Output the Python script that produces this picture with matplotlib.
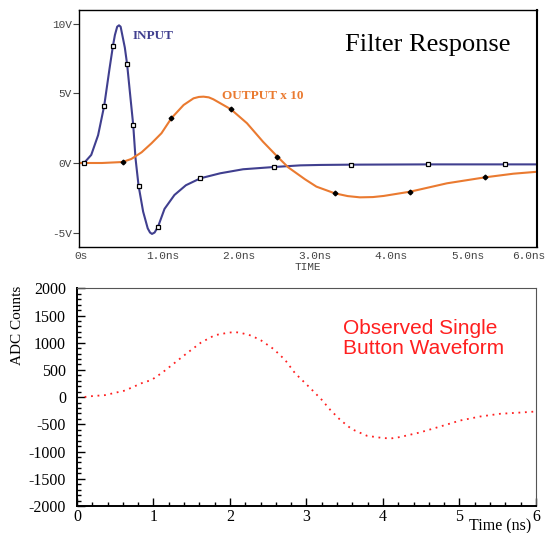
import matplotlib
matplotlib.use("Agg")
import matplotlib.pyplot as plt
import matplotlib.transforms as mtransforms
from matplotlib.ticker import MultipleLocator

plt.rcParams["axes.unicode_minus"] = False

# top panel: filter response (V vs ns)
t_in = [0, 0.066, 0.16, 0.25, 0.33, 0.40, 0.445, 0.47, 0.50, 0.524, 0.545, 0.567, 0.60,
        0.63, 0.67, 0.71, 0.74, 0.78, 0.84, 0.90, 0.93, 0.956, 0.99, 1.035, 1.12, 1.25,
        1.40, 1.59, 1.85, 2.15, 2.55, 2.9, 3.16, 3.56, 4.57, 5.58, 6.0]
v_in = [0, 0, 0.58, 2.0, 4.12, 6.8, 8.44, 9.2, 9.8, 9.9, 9.8, 9.2, 8.3,
        7.1, 4.9, 2.73, 0.34, -1.63, -3.5, -4.7, -5.0, -5.1, -5.0, -4.58, -3.3, -2.3,
        -1.6, -1.1, -0.74, -0.45, -0.29, -0.17, -0.14, -0.12, -0.1, -0.1, -0.1]
t_out = [0, 0.3, 0.57, 0.685, 0.82, 0.95, 1.08, 1.21, 1.37, 1.50, 1.57, 1.63, 1.70, 1.76,
         1.99, 2.20, 2.41, 2.60, 2.74, 2.96, 3.11, 3.35, 3.52, 3.68, 3.85, 3.99, 4.34,
         4.82, 5.32, 5.69, 6.0]
v_out = [0, 0, 0.07, 0.29, 0.77, 1.42, 2.14, 3.22, 4.17, 4.65, 4.75, 4.77, 4.72, 4.58,
         3.86, 2.86, 1.53, 0.45, -0.31, -1.17, -1.7, -2.18, -2.38, -2.47, -2.45, -2.37, -2.06,
         -1.46, -1.03, -0.77, -0.63]
mk_in_t = [0.066, 0.33, 0.445, 0.63, 0.71, 0.78, 1.035, 1.59, 2.55, 3.56, 4.57, 5.58]
mk_in_v = [0, 4.12, 8.44, 7.1, 2.73, -1.63, -4.58, -1.1, -0.29, -0.12, -0.1, -0.1]
mk_out_t = [0.57, 1.21, 1.99, 2.60, 3.35, 4.34, 5.32]
mk_out_v = [0.07, 3.22, 3.86, 0.45, -2.18, -2.06, -1.03]
top_xticks = [0, 1, 2, 3, 4, 5, 6]
top_xlabels = ["0s", "1.0ns", "2.0ns", "3.0ns", "4.0ns", "5.0ns", "6.0ns"]
top_yticks = [-5, 0, 5, 10]
top_ylabels = ["-5V", "0V", "5V", "10V"]

# bottom panel: observed waveform
t_adc = [0.1, 0.127, 0.366, 0.627, 0.846, 0.976, 1.115, 1.26, 1.37, 1.477, 1.62, 1.80, 1.98,
         2.06, 2.13, 2.28, 2.41, 2.57, 2.72, 2.85, 3.05, 3.20, 3.31, 3.44, 3.59, 3.79, 4.00,
         4.11, 4.22, 4.48, 4.75, 5.01, 5.27, 5.53, 5.80, 6.0]
adc = [0, 11, 37, 121, 257, 317, 451, 611, 734, 850, 1002, 1138, 1185,
       1195, 1185, 1130, 1039, 884, 684, 440, 165, -50, -233, -417, -587, -710, -752,
       -758, -734, -650, -539, -429, -356, -306, -283, -264]

navy = "#403f8f"
orange = "#ea7a30"

fig = plt.figure(figsize=(5.48, 5.33), dpi=100)

ax1 = fig.add_axes([0.1442, 0.5366, 0.8358, 0.4446])
ax1.plot(t_in, v_in, color=navy, lw=1.5)
ax1.plot(t_out, v_out, color=orange, lw=1.5)
ax1.plot(mk_in_t, mk_in_v, ls="none", marker="s", ms=3, mfc="white", mec="black", mew=0.9)
ax1.plot(mk_out_t, mk_out_v, ls="none", marker="D", ms=2.4, mfc="black", mec="black")
ax1.set_xlim(0, 6)
ax1.set_ylim(-6.04, 11.0)
ax1.set_xticks(top_xticks)
ax1.set_xticklabels(top_xlabels, family="Liberation Mono", fontsize=8, color="#444444")
ax1.set_yticks(top_yticks)
ax1.set_yticklabels(top_ylabels, family="Liberation Mono", fontsize=8, color="#444444")
ax1.tick_params(axis="x", length=0, pad=3)
ax1.tick_params(axis="y", length=4, width=0.8, pad=1, color="#444444")
shifts = [2, 7, 7, 7, 7, 7, -8]
for lab, s in zip(ax1.get_xticklabels(), shifts):
    lab.set_transform(lab.get_transform() + mtransforms.ScaledTranslation(s / 100, 0, fig.dpi_scale_trans))
for sp in ax1.spines.values():
    sp.set_linewidth(1.0)
ax1.spines["right"].set_linewidth(1.5)
ax1.text(0.5, -0.085, "TIME", transform=ax1.transAxes, ha="center", va="center",
         family="Liberation Mono", fontsize=8, color="#444444")
ax1.text(0.941, 0.852, "Filter Response", transform=ax1.transAxes, ha="right", va="center",
         family="Liberation Serif", fontsize=19, color="black")
ax1.text(0.116, 0.89, "INPUT", transform=ax1.transAxes, ha="left", va="center",
         family="Liberation Serif", fontsize=9.5, fontweight="bold", color=navy)
ax1.text(0.312, 0.637, "OUTPUT x 10", transform=ax1.transAxes, ha="left", va="center",
         family="Liberation Serif", fontsize=9.5, fontweight="bold", color=orange)

ax2 = fig.add_axes([0.1405, 0.0507, 0.8376, 0.4084])
ax2.plot(t_adc, adc, color="#ff2020", lw=1.3, ls=(0, (1, 2.6)))
ax2.set_xlim(0, 6)
ax2.set_ylim(-2000, 2000)
ax2.xaxis.set_major_locator(MultipleLocator(1))
ax2.xaxis.set_minor_locator(MultipleLocator(0.2))
ax2.yaxis.set_major_locator(MultipleLocator(500))
ax2.yaxis.set_minor_locator(MultipleLocator(100))
ax2.tick_params(which="both", direction="in", top=False, right=False, labelsize=11.5)
ax2.tick_params(which="major", length=6, width=1.0)
ax2.tick_params(which="minor", length=3, width=1.0)
ax2.tick_params(axis="y", pad=8)
ax2.tick_params(axis="x", pad=2)
for lab in ax2.get_xticklabels() + ax2.get_yticklabels():
    lab.set_family("Liberation Serif")
ax2.spines["left"].set_linewidth(1.4)
ax2.spines["bottom"].set_linewidth(1.4)
ax2.spines["top"].set_linewidth(0.8)
ax2.spines["right"].set_linewidth(0.8)
ax2.spines["top"].set_color("#555555")
ax2.spines["right"].set_color("#555555")
ax2.set_ylabel("ADC Counts", family="Liberation Serif", fontsize=11)
ax2.yaxis.set_label_coords(-0.115, 0.83)
ax2.set_xlabel("Time (ns)", family="Liberation Serif", fontsize=11.5)
ax2.xaxis.set_label_coords(0.921, -0.055)
ax2.text(0.5795, 0.77, "Observed Single\nButton Waveform", transform=ax2.transAxes,
         ha="left", va="center", family="Liberation Sans", fontsize=15, color="#ff2020",
         linespacing=1.1)

fig.savefig("out.png", dpi=100)
